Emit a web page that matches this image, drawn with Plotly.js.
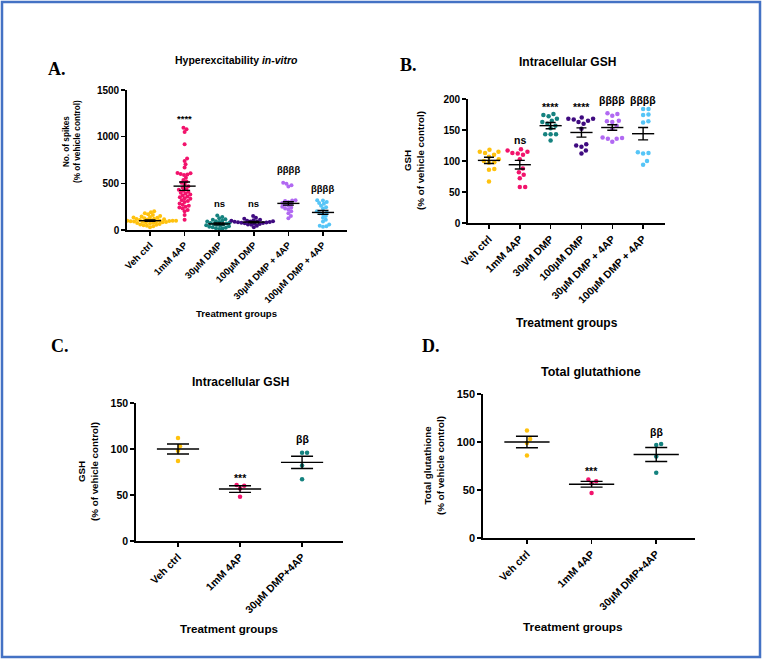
<!DOCTYPE html>
<html>
<head>
<meta charset="utf-8">
<script src="https://cdn.plot.ly/plotly-3.0.1.min.js"></script>
<style>
  html, body { margin: 0; padding: 0; background: #fff; }
  #fig { width: 764px; height: 660px; }
</style>
</head>
<body>
<div id="fig"></div>
<script>
// group colours (GraphPad style)
const COLORS = ["#FFC20E", "#F2136C", "#15827F", "#3F0A80", "#B169F2", "#56C5F7"];

// ---- Panel A: hyperexcitability (No. of spikes, % of vehicle control) ----
const groupsA = ["Veh ctrl", "1mM 4AP", "30\u00b5M DMP", "100\u00b5M DMP", "30\u00b5M DMP + 4AP", "100\u00b5M DMP + 4AP"];
const spikesVeh = [200, 190, 180, 170, 160, 150, 145, 140, 135, 130, 125, 120, 118, 115, 112, 110, 108, 105, 103, 100,
                   100, 98, 96, 95, 93, 90, 88, 85, 82, 80, 78, 75, 70, 65, 60, 55, 50, 45, 40, 30];
const spikes4AP = [1095, 1080, 1050, 920, 765, 740, 705, 670, 612, 608, 600, 595, 590, 560, 535, 520, 505, 490, 470, 455,
                   440, 430, 420, 410, 400, 390, 380, 370, 360, 350, 340, 335, 320, 310, 300, 285, 270, 260, 250, 240,
                   230, 215, 200, 160, 110];
const spikesDMP30 = [155, 140, 125, 115, 110, 100, 95, 90, 85, 80, 75, 70, 65, 60, 55, 50, 45, 40, 35, 30, 25, 20, 15, 10];
const spikesDMP100 = [150, 130, 120, 110, 105, 100, 98, 95, 92, 90, 88, 85, 83, 80, 78, 75, 72, 70, 65, 60, 55, 45, 30];
const spikesDMP30_4AP = [505, 495, 480, 465, 320, 315, 310, 300, 290, 280, 270, 260, 250, 240, 230, 220, 200, 180, 150, 125];
const spikesDMP100_4AP = [320, 315, 300, 290, 280, 260, 245, 230, 200, 185, 180, 170, 150, 130, 110, 90, 60, 45, 40, 35];
const meanA = [100, 470, 65, 85, 285, 188];
const semA = [8, 45, 10, 7, 18, 21];
const sigA = ["", "****", "ns", "ns", "\u03b2\u03b2\u03b2\u03b2", "\u03b2\u03b2\u03b2\u03b2"];
const sigPosA = [0, 1190, 286, 286, 650, 450];

// ---- Panel B: intracellular GSH ----
const gshVeh = [118, 115, 115, 113, 110, 107, 103, 100, 98, 97, 87, 86, 67];
const gsh4AP = [119, 117, 115, 113, 112, 110, 103, 88, 82, 78, 72, 58, 58];
const gshDMP30 = [176, 174, 172, 168, 165, 163, 160, 157, 153, 143, 143, 143, 133];
const gshDMP100 = [170, 168, 168, 167, 165, 163, 160, 152, 127, 125, 123, 117, 112];
const gshDMP30_4AP = [177, 176, 173, 165, 164, 163, 157, 152, 138, 137, 136, 136, 131];
const gshDMP100_4AP = [184, 184, 175, 174, 164, 162, 114, 113, 112, 100, 94];
const meanB = [101, 94, 157, 146, 154, 144];
const semB = [5, 7, 5, 7.5, 4.5, 10];
const sigB = ["", "ns", "****", "****", "\u03b2\u03b2\u03b2\u03b2", "\u03b2\u03b2\u03b2\u03b2"];
const sigPosB = [0, 134, 187, 187, 198, 198];

// ---- Panels C and D ----
const groupsCD = ["Veh ctrl", "1mM 4AP", "30\u00b5M DMP+4AP"];
const gshC = [[112, 103, 98, 87], [61, 60, 57, 48], [96, 96, 82, 67]];
const meanC = [100, 56.5, 85.5];
const semC = [5.5, 3.6, 6.7];
const totD = [[112, 103, 99, 86], [61, 59, 57, 47], [98, 97, 85, 68]];
const meanD = [100, 56, 87];
const semD = [6, 3, 7.3];
const sigCD = ["", "***", "\u03b2\u03b2"];
const sigPosC = [0, 68.5, 111];
const sigPosD = [0, 70, 110];

// ---- helpers ----
const W = 764, H = 660;
const px = x => x / W;
const py = y => 1 - y / H;
const FONT = "Liberation Sans, Arial, sans-serif";

// beeswarm: spread points sideways so dots of diameter diam (px) do not overlap
function swarmOffsets(vals, yScale, diam) {
  const order = vals.map((v, i) => i).sort((a, b) => vals[a] - vals[b]);
  const placed = [];
  const offs = new Array(vals.length).fill(0);
  order.forEach(i => {
    const y = vals[i] * yScale;
    const near = placed.filter(p => Math.abs(p[1] - y) < diam);
    const cands = [0];
    near.forEach(p => {
      const dx = Math.sqrt(diam * diam - (p[1] - y) ** 2);
      cands.push(p[0] + dx, p[0] - dx);
    });
    cands.sort((a, b) => Math.abs(a) - Math.abs(b));
    let ok = cands.find(c => near.every(p => (p[0] - c) ** 2 + (p[1] - y) ** 2 >= diam * diam - 1e-6));
    if (ok === undefined) ok = Math.max(...near.map(p => p[0])) + diam;
    offs[i] = ok;
    placed.push([ok, y]);
  });
  return offs;
}

function panelTraces(groupVals, means, sems, ax, pxPerCat, yScale, diam, msize, halfMean, capPx) {
  const tr = [];
  const xa = "x" + (ax === 1 ? "" : ax), ya = "y" + (ax === 1 ? "" : ax);
  groupVals.forEach((vals, g) => {
    const offs = swarmOffsets(vals, yScale, diam);
    tr.push({
      x: vals.map((v, i) => g + offs[i] / pxPerCat),
      y: vals,
      mode: "markers",
      type: "scatter",
      marker: { color: COLORS[g], size: msize },
      cliponaxis: false,
      hoverinfo: "y",
      xaxis: xa, yaxis: ya
    });
  });
  // mean lines
  const mx = [], my = [];
  means.forEach((m, g) => { mx.push(g - halfMean, g + halfMean, null); my.push(m, m, null); });
  tr.push({ x: mx, y: my, mode: "lines", type: "scatter", line: { color: "black", width: 1.4 },
            hoverinfo: "skip", xaxis: xa, yaxis: ya });
  // SEM bars
  tr.push({
    x: means.map((m, g) => g), y: means, mode: "markers", type: "scatter",
    marker: { opacity: 0, size: 1 },
    error_y: { type: "data", array: sems, visible: true, color: "black", thickness: 1.4, width: capPx },
    hoverinfo: "skip", xaxis: xa, yaxis: ya
  });
  return tr;
}

let traces = [];
traces = traces.concat(panelTraces(
  [spikesVeh, spikes4AP, spikesDMP30, spikesDMP100, spikesDMP30_4AP, spikesDMP100_4AP],
  meanA, semA, 1, 34.6, 140 / 1500, 3.4, 4, 0.32, 5.5));
traces = traces.concat(panelTraces(
  [gshVeh, gsh4AP, gshDMP30, gshDMP100, gshDMP30_4AP, gshDMP100_4AP],
  meanB, semB, 2, 30.8, 124 / 200, 5.4, 4.5, 0.36, 5));
traces = traces.concat(panelTraces(gshC, meanC, semC, 3, 62, 138 / 150, 5, 4.5, 0.34, 11));
traces = traces.concat(panelTraces(totD, meanD, semD, 4, 64.5, 144 / 150, 5, 4.5, 0.35, 11));

function baseAxis(fs) {
  return {
    showline: true, linecolor: "black", linewidth: 1.8, mirror: false,
    ticks: "outside", ticklen: 4, tickwidth: 1.5, tickcolor: "black",
    showgrid: false, zeroline: false, fixedrange: true,
    tickfont: { family: FONT, size: fs, color: "black", weight: "bold" }
  };
}
function xAxis(dom, range, labels, fs, anchor) {
  return Object.assign(baseAxis(fs), {
    domain: dom, range: range, tickmode: "array",
    tickvals: labels.map((l, i) => i), ticktext: labels, tickangle: -45, anchor: anchor
  });
}
function yAxis(dom, range, tickvals, fs, anchor) {
  return Object.assign(baseAxis(fs), {
    domain: dom, range: range, tickmode: "array", tickvals: tickvals, anchor: anchor
  });
}

const ann = [];
function text(t, x, y, size, opts) {
  ann.push(Object.assign({
    text: t, x: px(x), y: py(y), xref: "paper", yref: "paper", showarrow: false,
    xanchor: "center", yanchor: "middle",
    font: { family: FONT, size: size, color: "black", weight: "bold" }
  }, opts || {}));
}
function sig(labels, pos, ax, size) {
  labels.forEach((l, g) => {
    if (!l) return;
    ann.push({
      text: l, x: g, y: pos[g], xref: "x" + (ax === 1 ? "" : ax), yref: "y" + (ax === 1 ? "" : ax),
      showarrow: false, xanchor: "center", yanchor: "middle",
      font: { family: FONT, size: size, color: "black", weight: "bold" }
    });
  });
}

// panel letters
const serif = { family: "Liberation Serif, Times New Roman, serif", size: 18, color: "black", weight: "bold" };
text("A.", 57, 69, 18, { font: serif });
text("B.", 408, 65, 18, { font: serif });
text("C.", 60, 346, 18, { font: serif });
text("D.", 431, 346, 18, { font: serif });

// panel titles
text("Hyperexcitability <i>in-vitro</i>", 237, 60, 10.5);
text("Intracellular GSH", 567, 62, 12);
text("Intracellular GSH", 240, 382, 12);
text("Total glutathione", 591, 372, 12.5);

// y axis titles
text("No. of spikes<br>(% of vehicle control)", 72, 142, 8.2, { textangle: -90 });
text("GSH<br>(% of vehicle control)", 414, 161, 9.8, { textangle: -90 });
text("GSH<br>(% of vehicle control)", 88, 472, 9.8, { textangle: -90 });
text("Total glutathione<br>(% of vehicle control)", 434, 466, 9.8, { textangle: -90 });

// x axis titles
text("Treatment groups", 237, 313, 9.6);
text("Treatment groups", 567, 323, 12);
text("Treatment groups", 229, 628, 11.6);
text("Treatment groups", 573, 627, 11.8);

sig(sigA, sigPosA, 1, 9.5);
sig(sigB, sigPosB, 2, 10.5);
sig(sigCD, sigPosC, 3, 10.5);
sig(sigCD, sigPosD, 4, 10.5);

const layout = {
  width: W, height: H,
  margin: { l: 0, r: 0, t: 0, b: 0 },
  paper_bgcolor: "white", plot_bgcolor: "white",
  showlegend: false,
  xaxis: xAxis([px(127), px(347)], [-0.665, 5.694], groupsA, 9.5, "y"),
  yaxis: yAxis([py(230), py(90)], [0, 1500], [0, 500, 1000, 1500], 10, "x"),
  xaxis2: xAxis([px(468), px(665)], [-0.68, 5.71], groupsA, 10.5, "y2"),
  yaxis2: yAxis([py(223), py(99)], [0, 200], [0, 50, 100, 150, 200], 10, "x2"),
  xaxis3: xAxis([px(136), px(343)], [-0.677, 2.66], groupsCD, 10.5, "y3"),
  yaxis3: yAxis([py(541), py(403)], [0, 150], [0, 50, 100, 150], 10.5, "x3"),
  xaxis4: xAxis([px(483), px(695)], [-0.68, 2.6], groupsCD, 10.5, "y4"),
  yaxis4: yAxis([py(538), py(394)], [0, 150], [0, 50, 100, 150], 11, "x4"),
  annotations: ann,
  shapes: [{
    type: "rect", xref: "paper", yref: "paper",
    x0: px(2), x1: px(760), y0: py(657), y1: py(2),
    line: { color: "#4472C4", width: 2.5 }
  }]
};

Plotly.newPlot("fig", traces, layout, { displayModeBar: false, staticPlot: true });
</script>
</body>
</html>
